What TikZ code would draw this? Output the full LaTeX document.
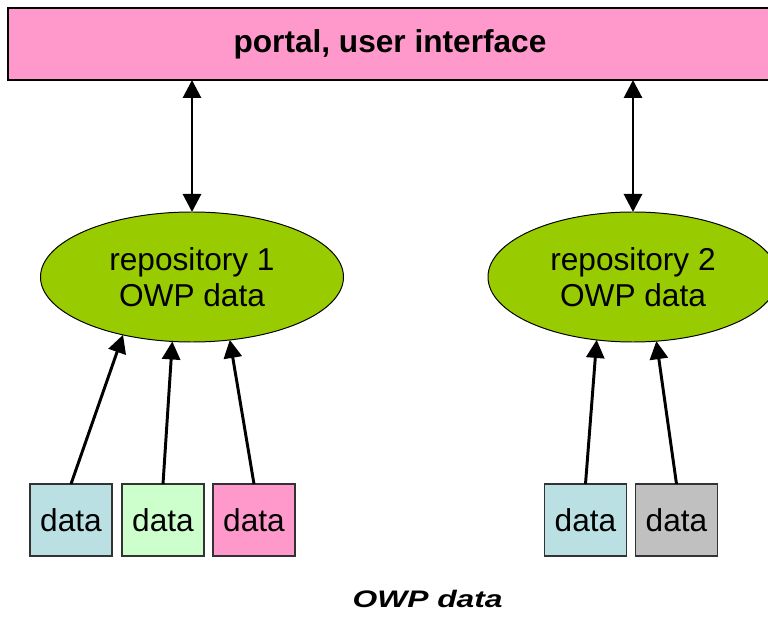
\documentclass[tikz,border=0pt]{standalone}
\usepackage{fontspec}
\setmainfont{Liberation Sans}
\usetikzlibrary{shapes.geometric,arrows.meta}
\definecolor{portalpink}{HTML}{FF99CC}
\definecolor{repogreen}{HTML}{99CC00}
\definecolor{datablue}{HTML}{BBE0E3}
\definecolor{datagreen}{HTML}{CCFFCC}
\definecolor{datagray}{HTML}{C0C0C0}
\definecolor{boxline}{HTML}{333333}

\begin{document}
\begin{tikzpicture}[
    every node/.style={font=\fontsize{22.5}{26}\selectfont,outer sep=0pt},
    repo/.style={ellipse,draw=black,line width=0.7pt,fill=repogreen,minimum width=#1,minimum height=3.25cm,align=center},
    databox/.style={rectangle,draw=boxline,line width=1.1pt,fill=#1,minimum width=2.05cm,minimum height=1.8cm},
    link/.style={line width=2.1pt,-{Triangle[length=0.45cm,width=0.45cm]}},
    twoway/.style={line width=2.1pt,{Triangle[length=0.45cm,width=0.45cm]}-{Triangle[length=0.45cm,width=0.45cm]}}
  ]
        \useasboundingbox (0,0) rectangle (19.2,-15.425);
        \clip (0,0) rectangle (19.2,-15.425);

        \node[draw=black,line width=1pt,fill=portalpink,minimum width=19.1cm,minimum height=1.8cm,font=\fontsize{22.5}{26}\selectfont\bfseries] (portal) at (9.75,-1.1) {portal, user interface};

        \node[repo=7.575cm] (r1) at (4.8,-6.925) {repository 1\\OWP data};
        \node[repo=7.25cm] (r2) at (15.825,-6.925) {repository 2\\OWP data};

        \node[databox=datablue] (d1) at (1.775,-13) {data};
        \node[databox=datagreen] (d2) at (4.075,-13) {data};
        \node[databox=portalpink] (d3) at (6.35,-13) {data};
        \node[databox=datablue] (d4) at (14.6375,-13) {data};
        \node[databox=datagray] (d5) at (16.9125,-13) {data};

        \node[anchor=base,font=\fontsize{17}{20}\selectfont\bfseries\itshape] (caption) at (10.69,-15.175) {\scalebox{1.33}[1]{OWP data}};

        \draw[twoway] (portal.south -| r1.north) -- (r1.north);
        \draw[twoway] (portal.south -| r2.north) -- (r2.north);

        \draw[link] (d1.north) -- (r1.220);
        \draw[link] (d2.north) -- (r1.253);
        \draw[link] (d3.north) -- (r1.301);
        \draw[link] (d4.north) -- (r2.240);
        \draw[link] (d5.north) -- (r2.290);
      \end{tikzpicture}
\end{document}
